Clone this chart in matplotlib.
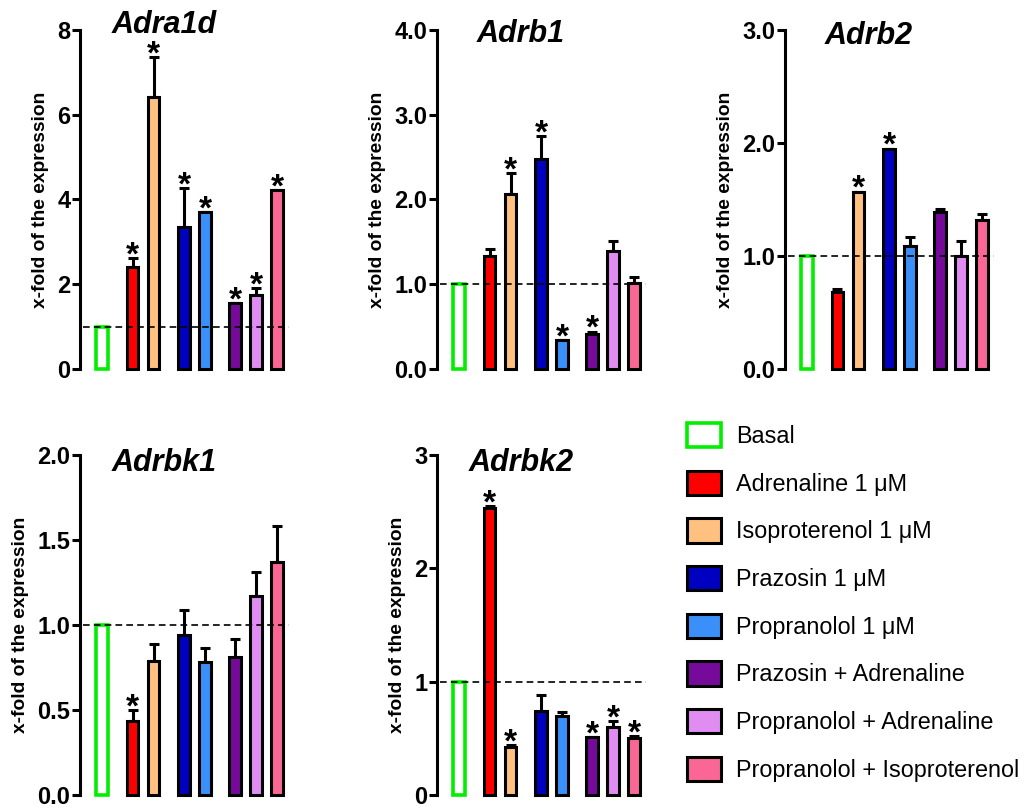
import matplotlib
matplotlib.use("Agg")
import matplotlib.pyplot as plt
from matplotlib.patches import Patch

plt.rcParams['font.family'] = ['Liberation Sans', 'DejaVu Sans']

# treatments and colours
treatments = ['Basal', 'Adrenaline 1 μM', 'Isoproterenol 1 μM', 'Prazosin 1 μM',
              'Propranolol 1 μM', 'Prazosin + Adrenaline',
              'Propranolol + Adrenaline', 'Propranolol + Isoproterenol']
colors = ['white', '#ff0000', '#ffc080', '#0000c0', '#3a8ff8', '#760a9a',
          '#e08cf2', '#fa6695']

genes = ['Adra1d', 'Adrb1', 'Adrb2', 'Adrbk1', 'Adrbk2']

adra1d_mean = [1.0, 2.41, 6.42, 3.35, 3.70, 1.56, 1.75, 4.22]
adra1d_err = [0.0, 0.21, 0.94, 0.92, 0.0, 0.0, 0.16, 0.0]
adrb1_mean = [1.0, 1.33, 2.07, 2.48, 0.34, 0.41, 1.39, 1.02]
adrb1_err = [0.0, 0.09, 0.24, 0.27, 0.0, 0.03, 0.12, 0.06]
adrb2_mean = [1.0, 0.68, 1.57, 1.95, 1.09, 1.39, 1.0, 1.32]
adrb2_err = [0.0, 0.03, 0.0, 0.0, 0.08, 0.03, 0.13, 0.05]
adrbk1_mean = [1.0, 0.435, 0.79, 0.94, 0.78, 0.81, 1.17, 1.37]
adrbk1_err = [0.0, 0.065, 0.10, 0.15, 0.085, 0.11, 0.14, 0.21]
adrbk2_mean = [1.0, 2.53, 0.42, 0.74, 0.70, 0.51, 0.60, 0.50]
adrbk2_err = [0.0, 0.02, 0.02, 0.14, 0.03, 0.0, 0.05, 0.02]

# indices of bars marked as significant
adra1d_sig = [1, 2, 3, 4, 5, 6, 7]
adrb1_sig = [2, 3, 4, 5]
adrb2_sig = [2, 3]
adrbk1_sig = [1]
adrbk2_sig = [1, 2, 5, 6, 7]

adra1d_ticks = [0, 2, 4, 6, 8]
adrb1_ticks = [0.0, 1.0, 2.0, 3.0, 4.0]
adrb2_ticks = [0.0, 1.0, 2.0, 3.0]
adrbk1_ticks = [0.0, 0.5, 1.0, 1.5, 2.0]
adrbk2_ticks = [0, 1, 2, 3]

means = [adra1d_mean, adrb1_mean, adrb2_mean, adrbk1_mean, adrbk2_mean]
errs = [adra1d_err, adrb1_err, adrb2_err, adrbk1_err, adrbk2_err]
sigs = [adra1d_sig, adrb1_sig, adrb2_sig, adrbk1_sig, adrbk2_sig]
ticks = [adra1d_ticks, adrb1_ticks, adrb2_ticks, adrbk1_ticks, adrbk2_ticks]
tick_fmt = ['%d', '%.1f', '%.1f', '%.1f', '%d']

# bar positions: three groups after the basal bar
xpos = [0, 1.45, 2.45, 3.9, 4.9, 6.35, 7.35, 8.35]

W, H = 1027, 811
fig = plt.figure(figsize=(W / 100, H / 100), dpi=100)

# axes rectangles in pixels: left, top, bottom
boxes = [(80, 30, 369), (437, 30, 369), (785, 30, 369),
         (80, 455, 795), (437, 455, 795)]
title_dy = [5, -4, -6, -8, -8]

for i, gene in enumerate(genes):
    left, top, bottom = boxes[i]
    ax = fig.add_axes([left / W, 1 - bottom / H, 210 / W, (bottom - top) / H])
    m, e = means[i], errs[i]
    ax.errorbar(xpos, m, yerr=[[0] * 8, e], fmt='none', ecolor='black',
                elinewidth=2.2, capsize=3.5, capthick=2.2, zorder=2, clip_on=False)
    for j in range(8):
        if j == 0:
            ax.bar(xpos[j], m[j], width=0.57, color='white', edgecolor='#00ee00',
                   linewidth=2.6, zorder=3, clip_on=False)
        else:
            ax.bar(xpos[j], m[j], width=0.57, color=colors[j], edgecolor='black',
                   linewidth=2.2, zorder=3, clip_on=False)
    for j in sigs[i]:
        ax.annotate('*', (xpos[j], m[j] + e[j]), xytext=(0, -4.5),
                    textcoords='offset points', ha='center', va='baseline',
                    fontsize=24, fontweight='bold')
    ax.plot([-0.9, 8.88], [1, 1], color='black', lw=1.2, ls=(0, (4, 2.5)), zorder=4)
    ax.set_xlim(-1.05, 8.95)
    ax.set_ylim(0, ticks[i][-1])
    ax.set_yticks(ticks[i])
    ax.set_yticklabels([tick_fmt[i] % t for t in ticks[i]])
    for s in ['top', 'right', 'bottom']:
        ax.spines[s].set_visible(False)
    ax.spines['left'].set_linewidth(2.2)
    ax.set_xticks([])
    ax.tick_params(axis='y', length=6, width=2.2, pad=1, labelsize=17)
    for lab in ax.get_yticklabels():
        lab.set_fontweight('bold')
    ax.set_ylabel('x-fold of the expression', fontsize=13.8, fontweight='bold',
                  labelpad=6)
    ax.text(0.40, 1 + title_dy[i] / (bottom - top), gene, transform=ax.transAxes,
            ha='center', va='center', fontsize=22, fontweight='bold',
            fontstyle='italic')

handles = [Patch(facecolor='white', edgecolor='#00ee00', linewidth=2.6)]
handles += [Patch(facecolor=c, edgecolor='black', linewidth=2.2) for c in colors[1:]]
fig.legend(handles, treatments, loc='upper left',
           bbox_to_anchor=(687 / W, 1 - 423 / H), frameon=False,
           prop={'family': 'Liberation Sans', 'size': 16.8},
           handlelength=1.44, handleheight=1.23, handletextpad=0.66,
           labelspacing=0.97, borderpad=0, borderaxespad=0)

fig.savefig('out.png', dpi=100)
